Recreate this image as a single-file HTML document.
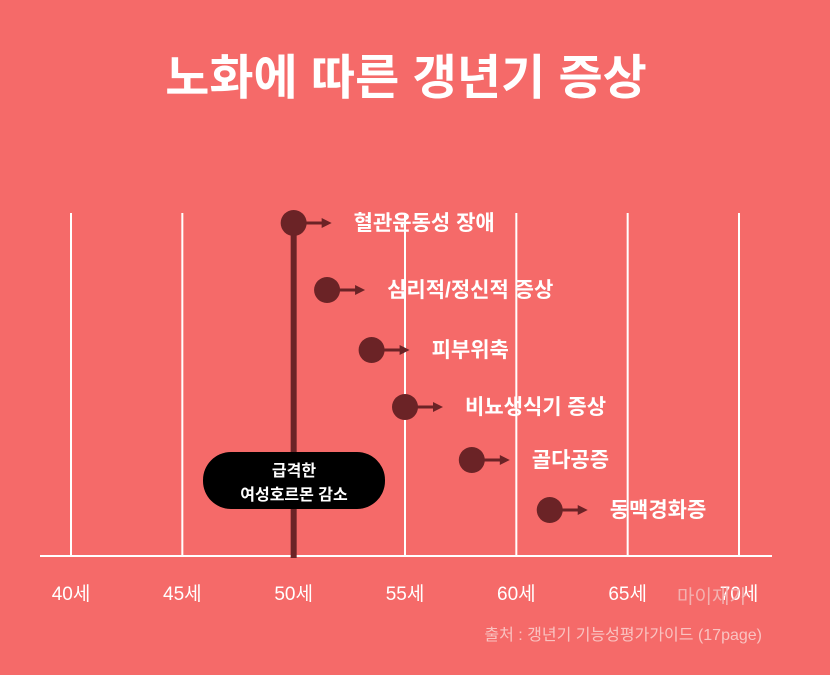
<!DOCTYPE html>
<html><head><meta charset="utf-8"><style>
body{margin:0;width:830px;height:670px;background:#f56a69;overflow:hidden;font-family:"Liberation Sans","Noto Sans CJK KR",sans-serif}
svg text{font-family:"Liberation Sans","Noto Sans CJK KR",sans-serif}
</style></head><body>
<svg width="830" height="670">
<rect width="830" height="670" fill="#f56a69"/>
<text x="406" y="94" text-anchor="middle" fill="#fff" font-size="48" font-weight="bold">노화에 따른 갱년기 증상</text>
<g id="grid"></g><g id="marks"></g>
<text x="762" y="640" text-anchor="end" fill="#f9c3c1" font-size="16">출처 : 갱년기 기능성평가가이드 (17page)</text>
<text x="712" y="603" text-anchor="middle" fill="#f3b1b0" font-size="19">마이재가</text>
</svg>
<script>
const ticks=[40,45,50,55,60,65,70];
const tickLabels=["40세","45세","50세","55세","60세","65세","70세"];
const symptoms=["혈관운동성 장애","심리적/정신적 증상","피부위축","비뇨생식기 증상","골다공증","동맥경화증"];
const onsetAge=[50,51.5,53.5,55,58,61.5];
const hormoneAge=50;
const NS="http://www.w3.org/2000/svg";
const x=a=>71+(a-40)*(739-71)/30;
const rowY=i=>[223,290,350,407,460,510][i];
function mk(t,at,p){const e=document.createElementNS(NS,t);for(const k in at)e.setAttribute(k,at[k]);p.appendChild(e);return e;}
const g=document.getElementById('grid'),m=document.getElementById('marks');
ticks.forEach((t,i)=>{
 const l=mk('line',{x1:x(t),x2:x(t),y1:213,y2:556,stroke:'#fff','stroke-width':2},g);
 
 
 const tx=mk('text',{x:x(t),y:600,'text-anchor':'middle',fill:'#fff','font-size':19},g);
 tx.textContent=tickLabels[i];
 
 
});
const base=mk('line',{x1:40,x2:772,y1:556,y2:556,stroke:'#fff','stroke-width':2},g);


const hl=mk('line',{x1:x(hormoneAge),x2:x(hormoneAge),y1:223,y2:558,stroke:'#6b2326','stroke-width':6},m);


const pill=mk('rect',{x:203,y:452,width:182,height:57,rx:28,fill:'#000'},m);


[['급격한',476],['여성호르몬 감소',500]].forEach(([s,y])=>{
 const t=mk('text',{x:294,y:y,'text-anchor':'middle',fill:'#fff','font-size':16,'font-weight':'bold'},m);
 t.textContent=s;
 
 
});
symptoms.forEach((s,i)=>{
 const cx=x(onsetAge[i]),cy=rowY(i);
 const ar=mk('line',{x1:cx,x2:cx+32,y1:cy,y2:cy,stroke:'#6b2326','stroke-width':3},m);
 
 
 const hd=mk('polygon',{points:`${cx+38},${cy} ${cx+28},${cy-5} ${cx+28},${cy+5}`,fill:'#6b2326'},m);
 
 
 const c=mk('circle',{cx:cx,cy:cy,r:13,fill:'#6b2326'},m);
 
 
 const t=mk('text',{x:cx+60,y:cy+7,fill:'#fff','font-size':21,'font-weight':'bold'},m);
 t.textContent=s;
 
 
});
</script>
</body></html>
